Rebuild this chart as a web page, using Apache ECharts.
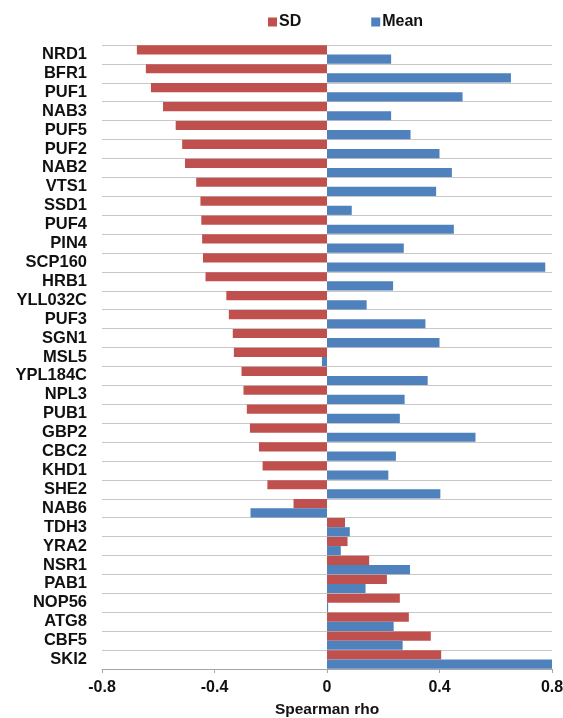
<!DOCTYPE html>
<html>
<head>
<meta charset="utf-8">
<script src="https://cdn.jsdelivr.net/npm/echarts@6/dist/echarts.min.js"></script>
<style>html,body{margin:0;padding:0;background:#fff}#c{width:563px;height:718px}</style>
</head>
<body>
<div id="c"></div>
<script>
const categories = ["NRD1","BFR1","PUF1","NAB3","PUF5","PUF2","NAB2","VTS1","SSD1","PUF4","PIN4","SCP160","HRB1","YLL032C","PUF3","SGN1","MSL5","YPL184C","NPL3","PUB1","GBP2","CBC2","KHD1","SHE2","NAB6","TDH3","YRA2","NSR1","PAB1","NOP56","ATG8","CBF5","SKI2"];
const sdValues = [-0.676,-0.644,-0.626,-0.583,-0.538,-0.515,-0.505,-0.465,-0.450,-0.447,-0.444,-0.441,-0.432,-0.358,-0.349,-0.335,-0.331,-0.304,-0.297,-0.285,-0.274,-0.242,-0.229,-0.212,-0.119,0.064,0.073,0.150,0.213,0.259,0.291,0.369,0.406];
const meanValues = [0.228,0.654,0.482,0.228,0.297,0.400,0.444,0.388,0.088,0.451,0.273,0.776,0.235,0.141,0.350,0.400,-0.018,0.358,0.276,0.259,0.528,0.245,0.218,0.403,-0.272,0.081,0.049,0.295,0.137,0.004,0.237,0.269,0.800];
const xTicks = [-0.8,-0.4,0,0.4,0.8];

const chart = echarts.init(document.getElementById('c'), null, {renderer:'canvas'});
const font = 'Liberation Sans, Arial, sans-serif';
chart.setOption({
  animation:false,
  textStyle:{fontFamily:font},
  legend:{
    top:9, left:263, itemWidth:9, itemHeight:9, itemGap:70,
    icon:'rect',
    textStyle:{fontFamily:font, fontWeight:'bold', fontSize:16, color:'#111', padding:[0,0,0,-3]},
    data:['SD','Mean']
  },
  grid:{left:102, right:11, top:45, bottom:49, containLabel:false, outerBoundsMode:'none'},
  xAxis:{
    type:'value', min:-0.8, max:0.8, interval:0.4,
    axisLine:{show:true, onZero:false, lineStyle:{color:'#a6a6a6'}},
    axisTick:{show:true, length:4, lineStyle:{color:'#a6a6a6'}},
    splitLine:{show:false},
    axisLabel:{fontFamily:font, fontWeight:'bold', fontSize:16, color:'#111', margin:11,
      formatter:function(v){ const t = xTicks.find(x=>Math.abs(x-v)<1e-9); return t===undefined? '' : String(t);} },
    name:'Spearman rho', nameLocation:'middle', nameGap:33,
    nameTextStyle:{fontFamily:font, fontWeight:'bold', fontSize:15.5, color:'#111'}
  },
  yAxis:{
    type:'category', data:categories, inverse:true,
    axisLine:{show:false}, axisTick:{show:false},
    splitLine:{show:true, lineStyle:{color:'#c8c8c8', width:1}},
    axisLabel:{fontFamily:font, fontWeight:'bold', fontSize:16.5, color:'#111', margin:15, interval:0}
  },
  series:[
    {name:'SD', type:'bar', data:sdValues, itemStyle:{color:'#C0504D'}, barGap:'0%', barCategoryGap:'3%'},
    {name:'Mean', type:'bar', data:meanValues, itemStyle:{color:'#4F81BD'}, barGap:'0%', barCategoryGap:'3%'}
  ]
});
</script>
</body>
</html>
